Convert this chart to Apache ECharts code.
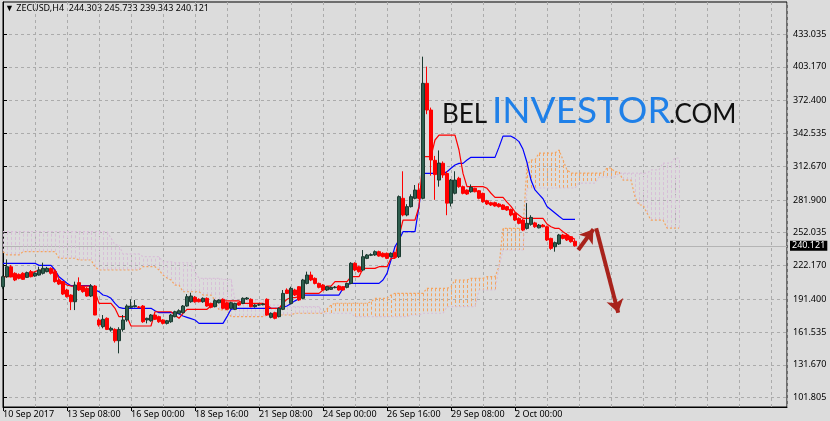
<!DOCTYPE html>
<html><head><meta charset="utf-8">
<script src="https://cdn.jsdelivr.net/npm/echarts@6/dist/echarts.min.js"></script>
<style>html,body{margin:0;padding:0;background:#dcdcdc}#c{width:830px;height:421px}</style>
</head><body><div id="c"></div><script>
const symbolName = 'ZECUSD,H4';
const xTickLabels = ['10 Sep 2017','13 Sep 08:00','16 Sep 00:00','18 Sep 16:00','21 Sep 08:00','24 Sep 00:00','26 Sep 16:00','29 Sep 08:00','2 Oct 00:00'];
const barsPerLabel = 16;
const yTicks = [101.805,131.670,161.535,191.400,222.170,252.035,281.900,312.670,342.535,372.400,403.170,433.035];
// [open, high, low, close]
const candles = [
[202.9,213.0,201.0,212.0],[212.0,227.8,211.0,221.1],[221.0,222.6,211.4,212.0],[215.1,216.0,208.0,209.0],
[214.1,215.0,209.6,210.5],[215.1,216.0,209.0,209.6],[211.4,216.6,211.0,215.7],[216.6,218.1,211.4,212.0],
[212.6,216.0,212.0,215.1],[213.5,221.1,213.0,218.1],[215.1,224.8,214.0,219.6],[216.6,221.0,216.0,219.6],
[219.6,220.5,214.0,215.1],[216.6,218.0,206.6,207.5],[209.0,210.0,204.4,205.3],[207.5,208.0,195.3,196.2],
[199.9,201.0,193.0,193.8],[195.3,196.0,181.6,189.2],[189.2,207.5,181.6,204.4],[206.6,211.4,199.0,199.9],
[202.9,204.0,197.4,198.4],[201.4,202.5,193.8,194.4],[194.4,205.3,193.5,203.5],[203.5,204.4,177.0,177.1],
[172.6,174.1,166.5,168.0],[166.5,177.1,165.0,173.2],[174.1,175.0,163.4,164.0],[163.4,166.5,162.0,165.0],
[164.0,165.0,152.0,153.7],[153.7,166.0,142.2,164.0],[164.0,177.1,162.0,172.6],[172.6,186.8,171.0,185.3],
[184.1,191.4,183.2,185.3],[184.7,190.8,184.0,185.6],[184.4,185.3,183.2,184.1],[185.3,186.2,170.0,171.0],
[172.6,174.7,169.5,174.1],[171.9,178.0,171.0,177.1],[177.1,178.0,172.6,173.2],[175.6,176.5,170.0,171.0],
[172.6,173.2,168.5,169.5],[169.5,172.6,168.5,171.9],[171.0,178.0,170.0,177.1],[175.6,181.0,175.0,180.1],
[178.6,182.3,178.0,181.0],[179.2,186.2,178.6,185.3],[185.3,196.2,184.7,193.8],[189.2,197.4,188.3,194.4],
[193.2,194.4,188.3,189.2],[191.4,192.3,188.6,189.2],[189.2,193.2,188.3,192.3],[192.3,193.2,184.7,185.3],
[187.7,188.3,183.2,184.1],[184.7,191.4,184.1,190.2],[188.3,191.4,187.7,190.8],[191.4,192.3,182.3,183.2],
[188.3,189.2,181.6,182.3],[183.2,189.2,182.3,188.3],[182.3,188.3,181.6,187.7],[188.3,189.0,185.5,186.2],
[187.7,193.2,187.0,192.3],[191.7,193.5,191.0,192.6],[191.4,192.3,184.1,184.7],[184.7,187.0,183.8,186.2],
[186.2,187.5,185.5,186.5],[186.5,188.0,185.9,187.1],[191.4,192.3,176.5,177.1],[175.0,179.5,174.1,178.6],
[179.2,180.1,173.2,174.1],[175.6,184.1,175.0,183.2],[182.3,199.9,181.6,196.8],[199.9,201.4,196.2,196.8],
[187.7,202.9,186.8,201.4],[199.9,201.0,194.4,195.3],[202.9,203.5,190.0,190.8],[192.3,210.0,191.4,209.0],
[205.9,216.6,205.0,213.5],[213.5,216.6,208.0,209.0],[210.5,211.4,205.0,205.9],[205.9,206.6,201.4,202.3],
[204.4,205.3,199.0,199.9],[199.9,203.5,199.0,202.9],[200.5,203.0,199.9,202.3],[202.0,203.5,201.4,202.6],
[203.5,204.4,199.3,199.9],[202.9,203.5,199.3,199.9],[202.3,206.6,201.4,205.9],[205.9,225.2,205.3,224.2],
[224.2,225.2,217.0,218.1],[221.1,222.0,215.7,216.6],[218.1,236.3,217.0,230.2],[228.7,232.7,228.0,231.8],
[231.5,233.3,230.8,232.1],[231.8,236.0,231.0,234.8],[234.8,235.7,230.2,230.8],[233.3,234.2,229.6,230.2],
[233.3,234.0,228.0,228.7],[230.2,234.2,229.6,233.3],[233.9,234.8,228.7,229.6],[230.2,286.0,229.0,284.9],
[283.4,308.0,267.0,268.2],[268.2,278.0,267.0,275.8],[275.8,287.0,275.0,284.9],[283.4,295.5,282.5,290.9],
[290.9,297.0,282.5,283.4],[283.4,412.4,282.5,388.1],[388.1,403.3,360.0,363.8],[363.8,366.0,304.0,318.3],
[318.0,322.0,282.0,305.0],[300.0,327.0,294.0,315.5],[315.3,317.0,302.0,304.6],[306.0,308.0,268.0,279.0],
[279.0,301.0,276.0,300.0],[288.0,308.0,287.0,300.0],[301.6,303.0,293.0,294.0],[294.0,295.0,287.0,287.9],
[290.9,291.5,286.5,287.3],[289.4,296.0,288.5,293.4],[292.5,293.0,288.8,289.4],[290.3,291.0,282.5,283.4],
[287.9,288.5,279.4,280.3],[281.2,282.0,277.3,278.2],[279.4,280.3,276.4,277.3],[279.4,280.3,275.8,276.4],
[278.2,279.0,275.0,275.8],[277.3,278.0,272.7,273.3],[275.8,276.4,272.0,272.7],[273.3,274.0,267.0,268.2],
[269.7,270.5,262.7,263.6],[265.1,266.0,259.7,260.6],[263.6,264.5,253.5,254.5],[256.0,279.0,255.0,260.6],
[259.7,268.0,258.5,266.0],[261.0,262.0,256.5,257.5],[256.5,260.0,256.0,259.0],[259.0,260.0,257.0,257.5],
[257.5,258.5,244.5,245.4],[246.9,247.5,236.5,237.8],[239.3,244.0,234.8,243.0],[241.8,251.0,241.0,250.0],
[250.0,251.0,246.0,246.9],[250.0,251.5,244.5,245.4],[248.4,249.0,243.0,243.9],[244.303,245.733,239.343,240.121]
];
const tenkan = [
212.0,212.0,212.0,212.0,212.0,212.0,212.0,215.1,216.6,218.1,218.1,218.1,218.1,218.1,209.5,206.6,
204.4,203.5,203.5,203.5,203.5,203.5,203.5,198.4,187.7,187.7,187.7,187.7,183.2,175.6,175.6,175.6,
167.1,167.1,167.1,167.1,167.1,167.1,180.1,180.1,180.1,180.1,180.1,177.1,174.1,178.6,182.3,182.3,
182.3,182.3,182.3,182.3,185.3,189.2,189.9,189.9,189.9,189.9,189.9,189.9,187.7,187.7,187.7,187.7,
187.7,187.7,186.2,183.2,183.2,183.2,188.0,191.4,193.0,193.0,193.8,196.8,196.8,196.8,196.8,196.8,
199.9,203.5,203.5,207.5,207.5,207.5,207.5,212.0,212.0,212.0,219.6,219.6,219.6,219.6,221.1,221.1,
221.1,228.7,228.7,248.5,263.6,263.6,263.6,263.6,275.8,321.3,321.3,321.3,336.5,341.0,341.0,341.0,
341.0,341.0,327.4,306.1,294.0,294.0,294.0,294.0,294.0,292.5,288.0,284.3,284.3,284.3,280.0,276.0,
271.0,268.0,265.1,265.1,265.1,265.1,265.1,265.1,260.0,257.5,256.0,256.0,253.0,250.5,248.0,246.0
];
const kijun = [
224.2,224.2,224.2,224.2,224.2,224.2,224.2,224.2,224.2,222.3,222.3,222.3,222.3,218.1,212.0,209.0,
206.0,203.8,203.8,203.8,203.8,203.8,203.8,199.9,198.4,195.3,194.4,192.3,187.7,184.1,183.2,183.2,
183.2,183.2,183.2,183.2,183.2,183.2,181.0,179.2,179.2,179.2,179.2,179.2,178.0,176.2,175.0,173.8,
172.6,169.5,169.5,169.5,169.5,169.5,169.5,169.5,175.6,182.3,183.2,183.2,183.2,183.2,183.2,183.2,
183.2,183.2,183.2,183.2,183.2,183.2,184.1,185.3,187.7,190.0,192.0,195.3,195.3,195.3,195.3,195.3,
195.3,195.3,195.3,195.3,195.3,201.4,204.4,205.9,205.9,205.9,205.9,205.9,205.9,205.9,205.9,209.0,
215.0,227.2,239.4,245.4,253.0,253.0,253.0,253.0,275.8,306.1,306.1,306.1,306.1,306.1,306.1,307.6,
310.7,313.7,315.2,315.2,318.3,320.7,320.7,320.7,320.7,320.7,320.7,320.7,330.0,340.0,340.0,340.0,
338.0,335.0,328.0,316.0,300.0,291.0,287.0,283.0,276.0,273.0,270.0,267.0,264.2,264.2,264.2,264.2
];
const spanA = [
234.8,231.8,231.8,231.8,231.8,234.8,234.8,234.8,234.8,234.8,234.8,234.8,234.8,234.8,228.8,228.8,
228.8,228.8,228.8,227.2,227.2,227.2,227.2,221.1,218.1,218.1,218.1,218.1,218.1,218.1,218.1,218.1,
218.1,218.1,218.1,221.1,221.1,221.1,221.1,218.1,213.5,210.8,209.0,204.4,204.4,198.3,198.3,198.3,
198.3,198.3,195.3,195.3,195.3,190.8,181.7,181.7,181.7,175.6,175.6,175.6,175.6,175.6,175.6,175.6,
175.6,175.6,177.1,177.1,177.1,177.1,177.1,177.1,177.1,178.7,178.7,178.7,178.7,178.7,178.7,178.7,
178.7,182.6,186.2,187.8,187.8,187.8,187.8,187.8,187.8,187.8,187.8,187.8,189.2,192.3,192.3,192.3,
192.3,195.3,196.9,196.9,196.9,196.9,196.9,196.9,196.9,196.9,201.4,201.4,201.4,201.4,201.4,201.4,
202.9,209.0,209.0,209.0,209.0,210.5,210.5,210.5,210.5,212.0,212.0,212.0,221.1,256.1,256.1,256.1,
256.1,256.1,256.1,313.7,318.3,318.3,324.6,324.6,324.6,324.6,324.6,327.4,318.3,309.2,306.4,306.4,
306.4,306.4,306.4,306.4,306.4,306.4,306.4,311.0,311.0,307.4,307.4,300.0,300.0,300.0,284.6,277.3,
277.3,270.0,263.6,263.6,263.6,263.6,256.3,256.3,256.3,256.3
];
const spanB = [
253.0,253.0,253.0,253.0,253.0,253.0,253.0,253.0,253.0,253.0,253.0,253.0,253.0,253.0,253.0,253.0,
253.0,253.0,253.0,253.0,253.0,253.0,253.0,253.0,253.0,253.0,253.0,247.2,240.9,240.9,232.7,232.7,
232.7,232.7,232.7,230.2,230.2,230.2,230.2,230.2,225.6,225.6,225.6,224.7,224.7,224.7,224.7,224.7,
216.5,210.5,210.5,210.5,210.5,210.5,210.5,209.6,209.6,209.6,190.8,190.8,190.8,190.8,190.8,190.8,
190.8,190.8,186.2,186.2,186.2,186.2,186.2,186.2,184.7,184.7,184.7,184.7,184.7,184.7,184.7,184.7,
178.7,178.7,178.7,178.7,178.7,178.7,178.7,178.7,175.6,175.6,175.6,175.6,175.6,175.6,175.6,175.6,
175.6,175.6,175.6,175.6,175.6,175.6,177.1,177.1,177.1,178.7,178.7,178.7,178.7,178.7,178.7,184.7,
184.7,184.7,184.7,184.7,184.7,184.7,184.7,199.9,199.9,199.9,199.9,199.9,220.8,236.3,236.3,236.3,
236.3,236.3,236.3,292.8,292.8,292.8,292.8,292.8,292.8,292.8,292.8,292.8,292.8,292.8,292.8,292.8,
297.3,297.3,297.3,297.3,297.3,302.8,302.8,302.8,302.8,302.8,306.4,306.4,306.4,306.4,306.4,306.4,
306.4,306.4,309.2,309.2,309.2,315.5,315.5,315.5,320.1,320.1
];
// annotation arrows in data coords: [barIndex, price]
const arrowUp = [[143.8,236.3],[147.6,255.2]];
const arrowDown = [[148.3,256.1],[153.8,179.2]];

const FONT = 'Noto Sans';
const last = candles[candles.length - 1];
const chart = echarts.init(document.getElementById('c'), null, {renderer: 'canvas'});
const gridColor = '#ababab';
chart.setOption({
  animation: false,
  backgroundColor: '#dcdcdc',
  grid: {left: 3, right: 43, top: 2, bottom: 14, show: true, borderColor: '#000', borderWidth: 1, backgroundColor: 'transparent'},
  xAxis: [{
    type: 'value', min: 0, max: 196, position: 'bottom',
    axisLine: {show: true, onZero: false, lineStyle: {color: '#000'}},
    axisTick: {show: true, length: 4, lineStyle: {color: '#000'}, customValues: xTickLabels.map((_, k) => k * barsPerLabel)},
    axisLabel: {show: true, customValues: xTickLabels.map((_, k) => k * barsPerLabel), formatter: v => xTickLabels[Math.round(v / barsPerLabel)] || '',
      color: '#000', fontFamily: FONT, fontSize: 9, align: 'left', margin: 3},
    splitLine: {show: false}
  }, {
    type: 'value', min: 0, max: 196, interval: 8, position: 'bottom', show: true,
    axisLine: {show: false}, axisTick: {show: false}, axisLabel: {show: false},
    splitLine: {show: true, lineStyle: {color: gridColor, type: [3, 3], width: 1}}
  }],
  yAxis: [{
    type: 'value', position: 'right', min: 93.335, max: 462.178,
    axisLine: {show: true, lineStyle: {color: '#000'}},
    axisTick: {show: true, length: 4, lineStyle: {color: '#000'}, customValues: yTicks},
    axisLabel: {show: true, customValues: yTicks, formatter: v => v.toFixed(3), color: '#000', fontFamily: FONT, fontSize: 9, margin: 6},
    splitLine: {show: true, lineStyle: {color: gridColor, type: [3, 3], width: 1}}
  }],
  series: [
    {
      type: 'custom', name: 'kumo', z: 1, clip: true, silent: true,
      data: spanA.map((a, i) => [i, a, spanB[i]]),
      encode: {x: 0, y: [1, 2]},
      renderItem: (params, api) => {
        const i = api.value(0), a = api.value(1), b = api.value(2);
        const p1 = api.coord([i, a]), p2 = api.coord([i, b]);
        return {type: 'line', shape: {x1: p1[0] + 0.5, y1: p1[1], x2: p2[0] + 0.5, y2: p2[1]},
          style: {stroke: a >= b ? '#f4a460' : '#d8bfd8', lineWidth: 1, lineDash: [3, 2]}};
      }
    },
    {type: 'line', name: 'spanA', z: 2, data: spanA.map((v, i) => [i, v]), showSymbol: false, silent: true,
      lineStyle: {color: '#f4a460', width: 1.2, type: [2, 2]}},
    {type: 'line', name: 'spanB', z: 2, data: spanB.map((v, i) => [i, v]), showSymbol: false, silent: true,
      lineStyle: {color: '#d8bfd8', width: 1.2, type: [2, 2]}},
    {type: 'line', name: 'kijun', z: 3, data: kijun.map((v, i) => [i, v]), showSymbol: false, silent: true,
      lineStyle: {color: '#0000ff', width: 1.2}},
    {type: 'line', name: 'tenkan', z: 3, data: tenkan.map((v, i) => [i, v]), showSymbol: false, silent: true,
      lineStyle: {color: '#ff0000', width: 1.2}},
    {
      type: 'candlestick', name: symbolName, z: 5, barWidth: 3,
      data: candles.map((c, i) => [i, c[0], c[3], c[2], c[1]]),
      encode: {x: 0, y: [1, 2, 3, 4]},
      itemStyle: {color: '#2e5e4e', color0: '#ff0000', borderColor: '#1b3a30', borderColor0: '#ff0000', borderWidth: 1},
      markLine: {
        silent: true, symbol: 'none', z: 0,
        lineStyle: {color: '#b4b4b4', type: 'solid', width: 1},
        label: {show: true, position: 'end', distance: 3, formatter: last[3].toFixed(3), backgroundColor: '#000', color: '#fff',
          fontFamily: FONT, fontSize: 9, padding: [1, 2, 0, 2]},
        data: [{yAxis: last[3]}]
      }
    },
    {
      type: 'line', name: 'arrows', data: [], z: 8,
      markLine: {
        silent: true, symbol: ['none', 'arrow'], symbolSize: [13, 13],
        lineStyle: {color: '#a8231c', width: 4, type: 'solid'},
        label: {show: false},
        data: [[{coord: arrowUp[0]}, {coord: arrowUp[1]}], [{coord: arrowDown[0]}, {coord: arrowDown[1]}]]
      }
    }
  ],
  graphic: [
    {type: 'text', left: 5, top: 4, style: {text: '\u25BC ' + symbolName + '  ' + last.map(v => v.toFixed(3)).join(' '),
      fill: '#000', font: '9px "' + FONT + '"'}},
    {type: 'text', x: 442, y: 128, z: 10, style: {text: 'BEL', fill: '#111', font: '26px Lato', verticalAlign: 'bottom',
      shadowColor: 'rgba(0,0,0,0.45)', shadowBlur: 4, shadowOffsetX: 1, shadowOffsetY: 1}},
    {type: 'text', x: 492, y: 130, z: 10, style: {text: 'INVESTOR', fill: '#1f80e8', font: '37px Lato', verticalAlign: 'bottom',
      shadowColor: 'rgba(0,0,0,0.35)', shadowBlur: 4, shadowOffsetX: 1, shadowOffsetY: 1}},
    {type: 'text', x: 669, y: 128, z: 10, style: {text: '.COM', fill: '#111', font: '26px Lato', verticalAlign: 'bottom',
      shadowColor: 'rgba(0,0,0,0.45)', shadowBlur: 4, shadowOffsetX: 1, shadowOffsetY: 1}}
  ]
});
</script></body></html>
